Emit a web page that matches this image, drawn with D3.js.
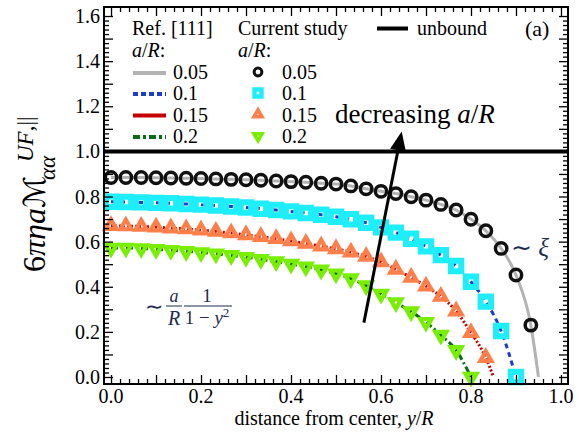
<!DOCTYPE html>
<html lang="en">
<head>
<meta charset="utf-8">
<title>Mobility vs distance from center</title>
<script src="https://d3js.org/d3.v7.min.js"></script>
<style>
  body { margin: 0; background: #fff; }
  svg { font-family: "Liberation Serif", "Times New Roman", serif; }
</style>
</head>
<body>
<script>
// sampling positions y/R (spacing 1/30)
var dist = [0.000, 0.033, 0.067, 0.100, 0.133, 0.167, 0.200, 0.233, 0.267, 0.300,
            0.333, 0.367, 0.400, 0.433, 0.467, 0.500, 0.533, 0.567, 0.600, 0.633,
            0.667, 0.700, 0.733, 0.767, 0.800, 0.833, 0.867, 0.900, 0.933];

// current study, one array per a/R
var mob005 = [0.884, 0.884, 0.884, 0.883, 0.882, 0.881, 0.880, 0.878, 0.876, 0.874,
              0.872, 0.869, 0.866, 0.863, 0.859, 0.855, 0.847, 0.834, 0.823, 0.813,
              0.799, 0.784, 0.765, 0.740, 0.699, 0.648, 0.570, 0.452, 0.230];
var mob010 = [0.777, 0.776, 0.774, 0.772, 0.770, 0.767, 0.764, 0.760, 0.756, 0.751,
              0.746, 0.740, 0.734, 0.727, 0.719, 0.710, 0.699, 0.684, 0.663, 0.640,
              0.613, 0.579, 0.540, 0.492, 0.422, 0.334, 0.204, 0.000];
var mob015 = [0.670, 0.669, 0.667, 0.664, 0.660, 0.656, 0.651, 0.645, 0.638, 0.630,
              0.622, 0.613, 0.603, 0.592, 0.580, 0.568, 0.553, 0.534, 0.510, 0.477,
              0.441, 0.402, 0.357, 0.292, 0.196, 0.086];
var mob020 = [0.572, 0.572, 0.570, 0.566, 0.562, 0.557, 0.552, 0.546, 0.539, 0.531,
              0.522, 0.512, 0.501, 0.489, 0.475, 0.458, 0.436, 0.405, 0.368, 0.330,
              0.290, 0.243, 0.186, 0.118, 0.000];

// where the Ref. [111] curves reach zero (1 - a/R)
var refEnd = [0.95, 0.90, 0.85, 0.80];
var sizeLabels = ["0.05", "0.1", "0.15", "0.2"];

var xTickLabels = [0.0, 0.2, 0.4, 0.6, 0.8, 1.0];
var yTickLabels = [0.0, 0.2, 0.4, 0.6, 0.8, 1.0, 1.2, 1.4, 1.6];

var w = 580, h = 432;

var x = d3.scaleLinear().domain([-0.0156, 1.0156]).range([104, 568]);
var y = d3.scaleLinear().domain([-0.031, 1.64]).range([384, 7]);

var svg = d3.select("body").append("svg")
  .attr("width", w)
  .attr("height", h)
  .attr("font-family", "Liberation Serif, Times New Roman, serif");

svg.append("rect").attr("width", w).attr("height", h).attr("fill", "#fff");

// styles per series
var series = [
  { vals: mob005, shape: "circle", col: "#111111", line: "#b3b3b3", dash: null },
  { vals: mob010, shape: "square", col: "#1eeefa", line: "#1c3ccf", dash: "5,4" },
  { vals: mob015, shape: "up",     col: "#ff7f4a", line: "#c40000", dash: "2,2" },
  { vals: mob020, shape: "down",   col: "#78ee00", line: "#0b6a16", dash: "7,3,2,3" }
];

function shapePath(shape, s) {
  if (shape == "square") {
    return "M" + (-s) + "," + (-s) + "H" + s + "V" + s + "H" + (-s) + "Z";
  }
  var hh = s * Math.sqrt(3) / 2;
  if (shape == "up") {
    return "M0," + (-2 * hh / 3) + "L" + (s / 2) + "," + (hh / 3) + "L" + (-s / 2) + "," + (hh / 3) + "Z";
  }
  return "M0," + (2 * hh / 3) + "L" + (s / 2) + "," + (-hh / 3) + "L" + (-s / 2) + "," + (-hh / 3) + "Z";
}

function drawMarker(g, shape, col, big) {
  if (shape == "circle") {
    g.append("circle").attr("r", big ? 5.7 : 3.9)
      .attr("fill", "none").attr("stroke", col).attr("stroke-width", big ? 3.5 : 3);
  } else if (shape == "square") {
    g.append("path").attr("d", shapePath("square", big ? 5.2 : 3.5))
      .attr("fill", "none").attr("stroke", col).attr("stroke-width", big ? 6 : 4.4);
  } else {
    g.append("path").attr("d", shapePath(shape, big ? 11 : 8))
      .attr("fill", "none").attr("stroke", col).attr("stroke-width", big ? 4.2 : 3.6)
      .attr("stroke-linejoin", "miter");
  }
}

// reference curves (under the markers)
var line = d3.line()
  .x(d => x(d[0]))
  .y(d => y(d[1]))
  .curve(d3.curveMonotoneX);

series.forEach(function(s, k) {
  var pts = s.vals.map((v, i) => [dist[i], v]);
  if (refEnd[k] > dist[s.vals.length - 1] + 1e-6) pts.push([refEnd[k], 0]);
  svg.append("path")
    .attr("d", line(pts))
    .attr("fill", "none")
    .attr("stroke", s.line)
    .attr("stroke-width", 3)
    .attr("stroke-dasharray", s.dash);
});

// markers
series.forEach(function(s) {
  s.vals.forEach(function(v, i) {
    var g = svg.append("g").attr("transform", "translate(" + x(dist[i]) + "," + y(v) + ")");
    drawMarker(g, s.shape, s.col, true);
  });
});

// unbound
svg.append("line")
  .attr("x1", x(-0.0156)).attr("x2", x(1.0156))
  .attr("y1", y(1)).attr("y2", y(1))
  .attr("stroke", "#000").attr("stroke-width", 4);

// arrow "decreasing a/R"
var ax0 = x(0.562), ay0 = y(0.241), ax1 = x(0.646), ay1 = y(1.088);
var ang = Math.atan2(ay1 - ay0, ax1 - ax0);
var hl = 19, hw = 8;
var bx = ax1 - hl * Math.cos(ang), by = ay1 - hl * Math.sin(ang);
svg.append("line")
  .attr("x1", ax0).attr("y1", ay0).attr("x2", bx).attr("y2", by)
  .attr("stroke", "#000").attr("stroke-width", 3);
svg.append("path")
  .attr("d", "M" + ax1 + "," + ay1 +
    "L" + (bx + hw * Math.sin(ang)) + "," + (by - hw * Math.cos(ang)) +
    "L" + (bx - hw * Math.sin(ang)) + "," + (by + hw * Math.cos(ang)) + "Z")
  .attr("fill", "#000");

svg.append("text")
  .attr("x", 335).attr("y", 123)
  .style("font-size", "27px")
  .html('decreasing <tspan font-style="italic">a</tspan>/<tspan font-style="italic">R</tspan>');

// asymptotes
svg.append("text")
  .attr("x", 511).attr("y", 256)
  .attr("fill", "#1d2b4f")
  .style("font-size", "25px")
  .html('\u223C <tspan font-style="italic">\u03BE</tspan>');

var frac = svg.append("g").attr("fill", "#1d2b4f").style("font-size", "19px");
frac.append("text").attr("x", 145).attr("y", 314).style("font-size", "22px").text("\u223C");
frac.append("text").attr("x", 174).attr("y", 302).attr("text-anchor", "middle")
  .attr("font-style", "italic").style("font-size", "18px").text("a");
frac.append("line").attr("x1", 166).attr("x2", 182).attr("y1", 306).attr("y2", 306)
  .attr("stroke", "#1d2b4f").attr("stroke-width", 1);
frac.append("text").attr("x", 174).attr("y", 325).attr("text-anchor", "middle")
  .attr("font-style", "italic").style("font-size", "20px").text("R");
frac.append("text").attr("x", 207).attr("y", 302).attr("text-anchor", "middle")
  .style("font-size", "19px").text("1");
frac.append("line").attr("x1", 184).attr("x2", 232).attr("y1", 306).attr("y2", 306)
  .attr("stroke", "#1d2b4f").attr("stroke-width", 1);
frac.append("text").attr("x", 207).attr("y", 324).attr("text-anchor", "middle")
  .style("font-size", "19px")
  .html('1 \u2212 <tspan font-style="italic">y</tspan><tspan dy="-7" font-size="13px">2</tspan>');

// axes: ticks inward on all four sides
var xMinor = d3.range(0, 51).map(i => i * 0.02).filter(v => Math.round(v * 50) % 5 != 0);
var xMajor = d3.range(0, 11).map(i => i * 0.1);
var yMinor = d3.range(0, 81).map(i => i * 0.02).filter(v => Math.round(v * 50) % 5 != 0);
var yMajor = d3.range(0, 17).map(i => i * 0.1);

function tickAxis(axisFn, scale, vals, size, tr) {
  var g = svg.append("g")
    .attr("transform", tr)
    .call(axisFn(scale).tickValues(vals).tickSize(size).tickFormat(""));
  g.select(".domain").remove();
  g.selectAll("line").attr("stroke", "#000").attr("stroke-width", 1.3);
}
tickAxis(d3.axisBottom, x, xMinor, -5, "translate(0,384)");
tickAxis(d3.axisBottom, x, xMajor, -9, "translate(0,384)");
tickAxis(d3.axisTop, x, xMinor, -5, "translate(0,7)");
tickAxis(d3.axisTop, x, xMajor, -9, "translate(0,7)");
tickAxis(d3.axisLeft, y, yMinor, -5, "translate(104,0)");
tickAxis(d3.axisLeft, y, yMajor, -9, "translate(104,0)");
tickAxis(d3.axisRight, y, yMinor, -5, "translate(568,0)");
tickAxis(d3.axisRight, y, yMajor, -9, "translate(568,0)");

svg.append("rect")
  .attr("x", 104).attr("y", 7).attr("width", 464).attr("height", 377)
  .attr("fill", "none").attr("stroke", "#000").attr("stroke-width", 2);

svg.append("g").selectAll("text")
  .data(xTickLabels).join("text")
  .attr("x", d => x(d)).attr("y", 403)
  .attr("text-anchor", "middle")
  .style("font-size", "20px")
  .text(d => d.toFixed(1));

svg.append("g").selectAll("text")
  .data(yTickLabels).join("text")
  .attr("x", 100).attr("y", d => y(d)).attr("dy", "0.35em")
  .attr("text-anchor", "end")
  .style("font-size", "20px")
  .text(d => d.toFixed(1));

// axis titles
svg.append("text")
  .attr("x", 334).attr("y", 425)
  .attr("text-anchor", "middle")
  .style("font-size", "20px")
  .html('distance from center, <tspan font-style="italic">y</tspan>/<tspan font-style="italic">R</tspan>');

var ylab = svg.append("text")
  .attr("transform", "translate(45,272) rotate(-90)")
  .style("font-size", "32px");
ylab.append("tspan").text("6");
ylab.append("tspan").attr("font-style", "italic").text("\u03C0\u03B7a");
ylab.append("tspan").attr("font-style", "italic")
  .attr("font-family", "DejaVu Serif, DejaVu Sans, serif").style("font-size", "30px").text("\u2133");
ylab.append("tspan").attr("x", 92).attr("y", 10).style("font-size", "23px")
  .attr("font-style", "italic").text("\u03B1\u03B1");
ylab.append("tspan").attr("x", 110).attr("y", -12).style("font-size", "23px")
  .attr("font-style", "italic").text("UF");
ylab.append("tspan").style("font-size", "23px").text(",||");

// legend
svg.append("text").attr("x", 132).attr("y", 35).style("font-size", "20px").text("Ref. [111]");
svg.append("text").attr("x", 132).attr("y", 57).style("font-size", "20px")
  .html('<tspan font-style="italic">a</tspan>/<tspan font-style="italic">R</tspan>:');
svg.append("text").attr("x", 238).attr("y", 35).style("font-size", "20px").text("Current study");
svg.append("text").attr("x", 238).attr("y", 57).style("font-size", "20px")
  .html('<tspan font-style="italic">a</tspan>/<tspan font-style="italic">R</tspan>:');

var legLine = ["#b3b3b3", "#1c3ccf", "#c40000", "#0b6a16"];
var legDash = [null, "5,3", null, "7,3,3,3"];
var rowY = [79, 100, 121.5, 143];

sizeLabels.forEach(function(lab, k) {
  svg.append("line")
    .attr("x1", 133).attr("x2", 166)
    .attr("y1", rowY[k] - 6).attr("y2", rowY[k] - 6)
    .attr("stroke", legLine[k]).attr("stroke-width", 4)
    .attr("stroke-dasharray", legDash[k]);
  svg.append("text").attr("x", 173).attr("y", rowY[k]).style("font-size", "20px").text(lab);
  var g = svg.append("g").attr("transform", "translate(258," + (rowY[k] - 7) + ")");
  drawMarker(g, series[k].shape, series[k].col, false);
  svg.append("text").attr("x", 282).attr("y", rowY[k]).style("font-size", "20px").text(lab);
});

svg.append("line")
  .attr("x1", 377).attr("x2", 408).attr("y1", 28.5).attr("y2", 28.5)
  .attr("stroke", "#000").attr("stroke-width", 4);
svg.append("text").attr("x", 417).attr("y", 35).style("font-size", "20px").text("unbound");
svg.append("text").attr("x", 525).attr("y", 36).style("font-size", "22px").text("(a)");
</script>
</body>
</html>
